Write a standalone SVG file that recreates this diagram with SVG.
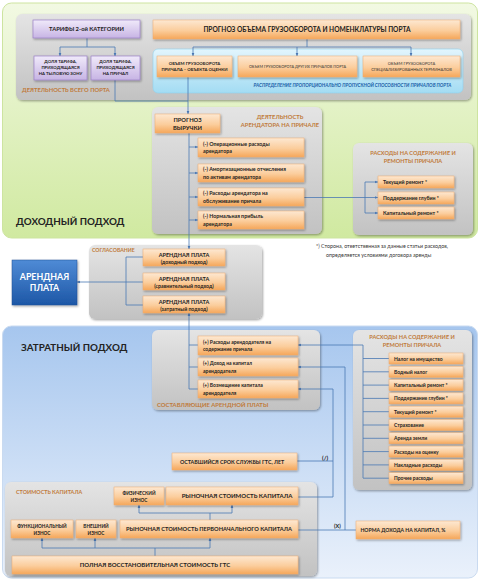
<svg xmlns="http://www.w3.org/2000/svg" width="480" height="582" viewBox="0 0 480 582">
<defs>
<linearGradient id="gGreen" x1="0" y1="0" x2="0" y2="1"><stop offset="0" stop-color="#f2f9e3"/><stop offset="1" stop-color="#d0e9a0"/></linearGradient>
<linearGradient id="gBlue" x1="0" y1="0" x2="0" y2="1"><stop offset="0" stop-color="#a6c6ee"/><stop offset="1" stop-color="#eaf1fb"/></linearGradient>
<linearGradient id="gGray" x1="0" y1="0" x2="0" y2="1"><stop offset="0" stop-color="#e4e4e4"/><stop offset="1" stop-color="#c2c2c2"/></linearGradient>
<linearGradient id="gOr" x1="0" y1="0" x2="0" y2="1"><stop offset="0" stop-color="#fde8d2"/><stop offset="0.55" stop-color="#fbcd9c"/><stop offset="1" stop-color="#f5a75a"/></linearGradient>
<linearGradient id="gPu" x1="0" y1="0" x2="0" y2="1"><stop offset="0" stop-color="#f0eafa"/><stop offset="1" stop-color="#c7b4e4"/></linearGradient>
<linearGradient id="gCy" x1="0" y1="0" x2="0" y2="1"><stop offset="0" stop-color="#e2f5fd"/><stop offset="1" stop-color="#a3dcf3"/></linearGradient>
<linearGradient id="gRent" x1="0" y1="0" x2="0" y2="1"><stop offset="0" stop-color="#4f8bd6"/><stop offset="1" stop-color="#1d57a6"/></linearGradient>
<filter id="sh" x="-10%" y="-10%" width="130%" height="140%"><feDropShadow dx="1" dy="1.2" stdDeviation="0.9" flood-color="#000" flood-opacity="0.35"/></filter>
<marker id="ar" viewBox="0 0 6 6" refX="5.5" refY="3" markerWidth="4" markerHeight="4" orient="auto-start-reverse"><path d="M0,0.5 L6,3 L0,5.5 z" fill="#4a78b4"/></marker>
<style>
.t{font-family:Lato,'Liberation Sans',sans-serif;font-weight:bold;fill:#222}
.n{font-family:Lato,'Liberation Sans',sans-serif;fill:#333}
.ttl{font-family:Lato,'Liberation Sans',sans-serif;font-weight:bold;fill:#c07a3a}
.ob{fill:url(#gOr);stroke:#f0ad70;stroke-width:0.5;filter:url(#sh)}
.pb{fill:url(#gPu);stroke:#9a80c6;stroke-width:0.7;filter:url(#sh)}
.gp{fill:url(#gGray);filter:url(#sh)}
.c{stroke:#4a78b4;stroke-width:0.8;fill:none}
.ca{stroke:#4a78b4;stroke-width:0.8;fill:none;marker-end:url(#ar)}
.m{text-anchor:middle}
</style>
</defs>

<!-- backgrounds -->
<g id="income-section">
<rect x="2.5" y="3" width="475" height="235" rx="9" fill="url(#gGreen)" stroke="#cde4a0" stroke-width="1"/>
<text class="t" x="16" y="225" font-size="9.8">ДОХОДНЫЙ ПОДХОД</text>
</g>
<g id="cost-section">
<rect x="2.5" y="326" width="475" height="252" rx="9" fill="url(#gBlue)" stroke="#c9daf0" stroke-width="1"/>
<text class="t" x="21" y="351" font-size="9.8">ЗАТРАТНЫЙ ПОДХОД</text>
</g>

<!-- panels -->
<g id="panel-port">
<rect class="gp" x="16" y="14" width="455" height="86" rx="6"/>
<text class="ttl" x="22" y="92" font-size="5.8">ДЕЯТЕЛЬНОСТЬ ВСЕГО ПОРТА</text>
</g>
<g id="panel-distribution">
<rect x="153" y="49" width="310" height="44" rx="5" fill="url(#gCy)" stroke="#8fd2ef" stroke-width="0.6"/>
<text x="352.5" y="87" class="m" font-family="Lato,'Liberation Sans',sans-serif" font-style="italic" font-weight="bold" font-size="4.7" fill="#2060a8">РАСПРЕДЕЛЕНИЕ ПРОПОРЦИОНАЛЬНО ПРОПУСКНОЙ СПОСОБНОСТИ ПРИЧАЛОВ ПОРТА</text>
</g>
<g id="panel-tenant">
<rect class="gp" x="152" y="107" width="170" height="127" rx="6"/>
<text class="ttl m" x="280" y="119" font-size="5.8">ДЕЯТЕЛЬНОСТЬ</text>
<text class="ttl m" x="280" y="127" font-size="5.8">АРЕНДАТОРА НА ПРИЧАЛЕ</text>
</g>
<g id="panel-repairs1">
<rect class="gp" x="353" y="143" width="120" height="92" rx="6"/>
<text class="ttl m" x="413" y="155" font-size="5.6">РАСХОДЫ НА СОДЕРЖАНИЕ И</text>
<text class="ttl m" x="413" y="163" font-size="5.6">РЕМОНТЫ ПРИЧАЛА</text>
</g>
<g id="footnote">
<text class="n" x="316" y="248" font-size="5.3">*)  Сторона, ответственная за данные статьи расходов,</text>
<text class="n" x="326" y="257" font-size="5.3">определяется  условиями договора аренды</text>
</g>
<g id="panel-agreement">
<rect class="gp" x="89" y="245" width="173" height="74" rx="6"/>
<text class="ttl" x="92" y="252" font-size="5.2">СОГЛАСОВАНИЕ</text>
</g>
<g id="panel-components">
<rect class="gp" x="152" y="330" width="168" height="80" rx="6"/>
<text class="ttl" x="157" y="407" font-size="5.9">СОСТАВЛЯЮЩИЕ АРЕНДНОЙ ПЛАТЫ</text>
</g>
<g id="panel-repairs2">
<rect class="gp" x="353" y="330" width="119" height="160" rx="6"/>
<text class="ttl m" x="412" y="339" font-size="5.6">РАСХОДЫ НА СОДЕРЖАНИЕ И</text>
<text class="ttl m" x="412" y="347" font-size="5.6">РЕМОНТЫ ПРИЧАЛА</text>
</g>
<g id="panel-capital">
<rect class="gp" x="5" y="482" width="312" height="94" rx="6"/>
<text class="ttl" x="16" y="494" font-size="5.4">СТОИМОСТЬ КАПИТАЛА</text>
</g>

<!-- connectors -->
<g id="connectors">
<path class="c" d="M87,38 V47 M60,47 H115"/>
<path class="ca" d="M60,47 V56"/>
<path class="ca" d="M115,47 V56"/>
<path class="c" d="M307,39 V47 M193,47 H411"/>
<path class="ca" d="M193,47 V56"/>
<path class="ca" d="M297,47 V56"/>
<path class="ca" d="M411,47 V56"/>
<path class="c" d="M115,80 V101 H188"/>
<path class="ca" d="M188,77 V114"/>
<path class="ca" d="M189,133 V249"/>
<path class="ca" d="M189,147 H198"/>
<path class="ca" d="M189,173 H198"/>
<path class="ca" d="M189,197 H198"/>
<path class="ca" d="M189,220 H198"/>
<path class="ca" d="M304,197.5 H378"/>
<path class="c" d="M365,182 V213"/>
<path class="ca" d="M365,182 H378"/>
<path class="ca" d="M365,213 H378"/>
<path class="c" d="M143,257 H126 V305 H143"/>
<path class="ca" d="M143,282 H77"/>
<path class="ca" d="M189,389 V313"/>
<path class="c" d="M189,345 H198 M189,367 H198 M189,389 H198"/>
<path class="c" d="M363,345 V478 M363,358.5 H389 M363,371.8 H389 M363,385.1 H389 M363,398.4 H389 M363,411.7 H389 M363,425 H389 M363,438.3 H389 M363,451.6 H389 M363,464.9 H389 M363,478.2 H389"/>
<path class="ca" d="M363,345 H298"/>
<path class="c" d="M298,530 H356 M345,530 V367"/>
<path class="ca" d="M345,367 H298"/>
<path class="c" d="M298,497 H333 V389 M297,461 H333"/>
<path class="ca" d="M333,389 H298"/>
<path class="c" d="M155,556 V548 M42,548 H210"/>
<path class="ca" d="M42,548 V538"/>
<path class="ca" d="M95,548 V538"/>
<path class="ca" d="M210,548 V538"/>
<path class="c" d="M210,520 V513 M139,513 H232"/>
<path class="ca" d="M139,513 V505"/>
<path class="ca" d="M232,513 V505"/>
<text class="t" x="322" y="460" font-size="6" fill="#333">(/)</text>
<text class="t" x="334" y="528" font-size="5.5" fill="#333">(X)</text>
</g>

<!-- nodes: top -->
<g id="tariffs">
<rect class="pb" x="33" y="20" width="107" height="18"/>
<text class="t m" x="86.5" y="31" font-size="5.8">ТАРИФЫ 2-ой КАТЕГОРИИ</text>
</g>
<g id="share-rear">
<rect class="pb" x="34" y="56" width="53" height="24"/>
<text class="t m" x="60.5" y="63" font-size="4.3">ДОЛЯ ТАРИФА,</text>
<text class="t m" x="60.5" y="69" font-size="4.3">ПРИХОДЯЩАЯСЯ</text>
<text class="t m" x="60.5" y="75" font-size="4.3">НА ТЫЛОВУЮ ЗОНУ</text>
</g>
<g id="share-berth">
<rect class="pb" x="91" y="56" width="49" height="24"/>
<text class="t m" x="115.5" y="63" font-size="4.3">ДОЛЯ ТАРИФА,</text>
<text class="t m" x="115.5" y="69" font-size="4.3">ПРИХОДЯЩАЯСЯ</text>
<text class="t m" x="115.5" y="75" font-size="4.3">НА ПРИЧАЛ</text>
</g>
<g id="forecast-port">
<rect class="ob" x="153" y="20" width="307" height="19"/>
<text class="t m" x="307" y="31.5" font-size="6.6">ПРОГНОЗ ОБЪЕМА ГРУЗООБОРОТА И НОМЕНКЛАТУРЫ ПОРТА</text>
</g>
<g id="volume-berth">
<rect class="ob" x="157" y="56" width="75" height="21"/>
<text class="t m" x="194.5" y="65" font-size="4.3">ОБЪЕМ ГРУЗООБОРОТА</text>
<text class="t m" x="194.5" y="71" font-size="4.3">ПРИЧАЛА – ОБЪЕКТА ОЦЕНКИ</text>
</g>
<g id="volume-other">
<rect class="ob" x="238" y="56" width="119" height="21"/>
<text class="n m" x="297.5" y="68" font-size="3.8">ОБЪЕМ ГРУЗООБОРОТА ДРУГИХ ПРИЧАЛОВ ПОРТА</text>
</g>
<g id="volume-terminals">
<rect class="ob" x="363" y="56" width="97" height="21"/>
<text class="n m" x="411.5" y="65" font-size="4">ОБЪЕМ ГРУЗООБОРОТА</text>
<text class="n m" x="411.5" y="71" font-size="4">СПЕЦИАЛИЗИРОВАННЫХ ТЕРМИНАЛОВ</text>
</g>

<!-- tenant activity -->
<g id="revenue">
<rect class="ob" x="155" y="114" width="65" height="19"/>
<text class="t m" x="187.5" y="122" font-size="5.8">ПРОГНОЗ</text>
<text class="t m" x="187.5" y="129.5" font-size="5.8">ВЫРУЧКИ</text>
</g>
<g id="minus-opex">
<rect class="ob" x="198" y="138" width="106" height="19"/>
<text class="t" x="203" y="145.5" font-size="5.3">(-) Операционные расходы</text>
<text class="t" x="203" y="153" font-size="5.3">арендатора</text>
</g>
<g id="minus-amort">
<rect class="ob" x="198" y="164" width="106" height="18"/>
<text class="t" x="203" y="171" font-size="5.3">(-) Амортизационные отчисления</text>
<text class="t" x="203" y="178.5" font-size="5.3">по активам арендатора</text>
</g>
<g id="minus-service">
<rect class="ob" x="198" y="188" width="106" height="18"/>
<text class="t" x="203" y="195" font-size="5.3">(-) Расходы арендатора на</text>
<text class="t" x="203" y="202.5" font-size="5.3">обслуживание причала</text>
</g>
<g id="minus-profit">
<rect class="ob" x="198" y="211" width="106" height="18"/>
<text class="t" x="203" y="218" font-size="5.3">(-) Нормальная прибыль</text>
<text class="t" x="203" y="225.5" font-size="5.3">арендатора</text>
</g>
<g id="r1-current">
<rect class="ob" x="378" y="176" width="76" height="12"/>
<text class="t" x="383" y="184" font-size="5.2">Текущий ремонт *</text>
</g>
<g id="r1-depth">
<rect class="ob" x="378" y="192" width="76" height="12"/>
<text class="t" x="383" y="200" font-size="5.2">Поддержание глубин *</text>
</g>
<g id="r1-capital">
<rect class="ob" x="378" y="207" width="76" height="12"/>
<text class="t" x="383" y="215" font-size="5.2">Капитальный ремонт *</text>
</g>

<!-- agreement -->
<g id="rent-main">
<rect x="12" y="260" width="65" height="45" fill="url(#gRent)" stroke="#1d4f94" stroke-width="0.5" filter="url(#sh)"/>
<text class="m" x="44.5" y="280" font-family="Lato,'Liberation Sans',sans-serif" font-weight="bold" font-size="8.8" fill="#fff">АРЕНДНАЯ</text>
<text class="m" x="44.5" y="291" font-family="Lato,'Liberation Sans',sans-serif" font-weight="bold" font-size="8.8" fill="#fff">ПЛАТА</text>
</g>
<g id="rent-income">
<rect class="ob" x="143" y="249" width="82" height="17"/>
<text class="t m" x="184" y="256.5" font-size="5.5">АРЕНДНАЯ ПЛАТА</text>
<text class="t m" x="184" y="263.5" font-size="5.2">(доходный подход)</text>
</g>
<g id="rent-compare">
<rect class="ob" x="143" y="273" width="82" height="17"/>
<text class="t m" x="184" y="280.5" font-size="5.5">АРЕНДНАЯ ПЛАТА</text>
<text class="t m" x="184" y="287.5" font-size="5.2">(сравнительный подход)</text>
</g>
<g id="rent-cost">
<rect class="ob" x="143" y="296" width="82" height="17"/>
<text class="t m" x="184" y="303.5" font-size="5.5">АРЕНДНАЯ ПЛАТА</text>
<text class="t m" x="184" y="310.5" font-size="5.2">(затратный подход)</text>
</g>

<!-- components -->
<g id="plus-expenses">
<rect class="ob" x="198" y="336" width="100" height="19"/>
<text class="t" x="203" y="343.5" font-size="5">(+) Расходы арендодателя на</text>
<text class="t" x="203" y="351" font-size="5">содержание причала</text>
</g>
<g id="plus-income">
<rect class="ob" x="198" y="358" width="100" height="18"/>
<text class="t" x="203" y="365" font-size="5">(+) Доход на капитал</text>
<text class="t" x="203" y="372.5" font-size="5">арендодателя</text>
</g>
<g id="plus-recovery">
<rect class="ob" x="198" y="380" width="100" height="18"/>
<text class="t" x="203" y="387" font-size="5">(+) Возмещение капитала</text>
<text class="t" x="203" y="394.5" font-size="5">арендодателя</text>
</g>

<!-- repairs list -->
<g id="r2-1"><rect class="ob" x="389" y="353" width="74" height="11"/><text class="t" x="394" y="360.5" font-size="5">Налог на имущество</text></g>
<g id="r2-2"><rect class="ob" x="389" y="366.3" width="74" height="11"/><text class="t" x="394" y="373.8" font-size="5">Водный налог</text></g>
<g id="r2-3"><rect class="ob" x="389" y="379.6" width="74" height="11"/><text class="t" x="394" y="387.1" font-size="5">Капитальный ремонт *</text></g>
<g id="r2-4"><rect class="ob" x="389" y="392.9" width="74" height="11"/><text class="t" x="394" y="400.4" font-size="5">Поддержание глубин *</text></g>
<g id="r2-5"><rect class="ob" x="389" y="406.2" width="74" height="11"/><text class="t" x="394" y="413.7" font-size="5">Текущий ремонт *</text></g>
<g id="r2-6"><rect class="ob" x="389" y="419.5" width="74" height="11"/><text class="t" x="394" y="427" font-size="5">Страхование</text></g>
<g id="r2-7"><rect class="ob" x="389" y="432.8" width="74" height="11"/><text class="t" x="394" y="440.3" font-size="5">Аренда земли</text></g>
<g id="r2-8"><rect class="ob" x="389" y="446.1" width="74" height="11"/><text class="t" x="394" y="453.6" font-size="5">Расходы на оценку</text></g>
<g id="r2-9"><rect class="ob" x="389" y="459.4" width="74" height="11"/><text class="t" x="394" y="466.9" font-size="5">Накладные расходы</text></g>
<g id="r2-10"><rect class="ob" x="389" y="472.7" width="74" height="11"/><text class="t" x="394" y="480.2" font-size="5">Прочие расходы</text></g>

<!-- capital -->
<g id="remaining-life">
<rect class="ob" x="172" y="453" width="125" height="17"/>
<text class="t m" x="232" y="463.5" font-size="5.3">ОСТАВШИЙСЯ СРОК СЛУЖБЫ ГТС, ЛЕТ</text>
</g>
<g id="physical-wear">
<rect class="ob" x="114" y="487" width="50" height="18"/>
<text class="t m" x="139" y="494.5" font-size="4.7">ФИЗИЧЕСКИЙ</text>
<text class="t m" x="139" y="501.5" font-size="4.7">ИЗНОС</text>
</g>
<g id="market-capital">
<rect class="ob" x="166" y="487" width="132" height="18"/>
<text class="t m" x="237" y="498" font-size="6">РЫНОЧНАЯ СТОИМОСТЬ  КАПИТАЛА</text>
</g>
<g id="functional-wear">
<rect class="ob" x="11" y="520" width="62" height="18"/>
<text class="t m" x="42" y="527.5" font-size="4.7">ФУНКЦИОНАЛЬНЫЙ</text>
<text class="t m" x="42" y="534.5" font-size="4.7">ИЗНОС</text>
</g>
<g id="external-wear">
<rect class="ob" x="76" y="520" width="40" height="18"/>
<text class="t m" x="96" y="527.5" font-size="4.7">ВНЕШНИЙ</text>
<text class="t m" x="96" y="534.5" font-size="4.7">ИЗНОС</text>
</g>
<g id="market-initial">
<rect class="ob" x="120" y="520" width="178" height="18"/>
<text class="t m" x="209" y="531" font-size="5.7">РЫНОЧНАЯ СТОИМОСТЬ ПЕРВОНАЧАЛЬНОГО КАПИТАЛА</text>
</g>
<g id="full-replacement">
<rect class="ob" x="12" y="556" width="286" height="18"/>
<text class="t m" x="155" y="567" font-size="6">ПОЛНАЯ ВОССТАНОВИТЕЛЬНАЯ СТОИМОСТЬ ГТС</text>
</g>
<g id="return-rate">
<rect class="ob" x="356" y="521" width="104" height="18"/>
<text class="t m" x="403" y="532" font-size="5.1">НОРМА ДОХОДА НА КАПИТАЛ, %</text>
</g>
</svg>
